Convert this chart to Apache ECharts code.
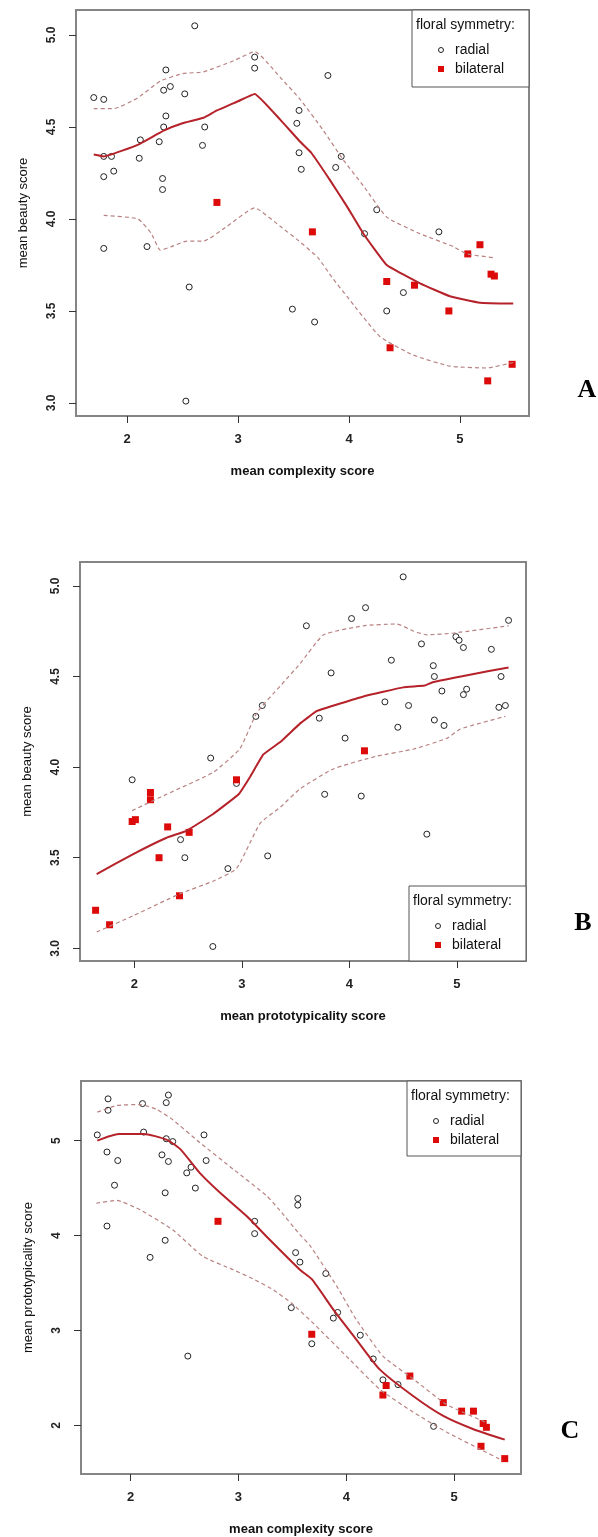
<!DOCTYPE html>
<html>
<head>
<meta charset="utf-8">
<title>floral symmetry</title>
<script src="https://cdn.jsdelivr.net/npm/echarts@6/dist/echarts.min.js"></script>
<style>body{margin:0;padding:0;background:#fff}</style>
</head>
<body>
<div id="main" style="width:598px;height:1537px"></div>
<script>
// A: complexity vs beauty
var aRadial = [[1.70,4.66],[1.79,4.65],[2.61,5.05],[3.15,4.88],[3.15,4.82],[2.35,4.81],[2.33,4.70],[2.39,4.72],[2.52,4.68],[2.35,4.56],
  [2.33,4.50],[2.70,4.50],[2.68,4.40],[2.12,4.43],[2.29,4.42],[1.79,4.34],[1.86,4.34],[2.11,4.33],[1.79,4.23],[1.88,4.26],
  [2.32,4.22],[2.32,4.16],[1.79,3.84],[2.18,3.85],[2.56,3.63],[3.49,3.51],[2.53,3.01],[3.81,4.78],[3.55,4.59],[3.53,4.52],
  [3.55,4.36],[3.93,4.34],[3.88,4.28],[3.57,4.27],[4.25,4.05],[4.14,3.92],[4.81,3.93],[4.49,3.60],[4.34,3.50],[3.69,3.44]];
var aBilateral = [[2.81,4.09],[3.67,3.93],[5.18,3.86],[5.07,3.81],[5.28,3.70],[5.31,3.69],[4.34,3.66],[4.59,3.64],[4.90,3.50],[4.37,3.30],[5.47,3.21],[5.25,3.12]];
var aFit = [[1.70,4.35],[1.79,4.34],[1.95,4.37],[2.12,4.41],[2.33,4.48],[2.50,4.52],[2.69,4.55],[2.81,4.59],[3.00,4.64],[3.15,4.68],
  [3.38,4.54],[3.56,4.42],[3.66,4.36],[3.83,4.21],[3.98,4.07],[4.13,3.92],[4.34,3.75],[4.64,3.65],[4.91,3.58],[5.18,3.545],[5.48,3.54]];
var aUpper = [[1.70,4.60],[1.88,4.60],[2.10,4.66],[2.30,4.75],[2.50,4.79],[2.69,4.80],[2.96,4.86],[3.15,4.91],[3.38,4.77],[3.56,4.65],
  [3.77,4.48],[3.95,4.32],[4.13,4.18],[4.34,4.01],[4.64,3.92],[4.94,3.85],[5.06,3.81],[5.30,3.79]];
var aLower = [[1.79,4.02],[2.10,4.00],[2.22,3.92],[2.30,3.83],[2.40,3.85],[2.54,3.88],[2.69,3.88],[2.90,3.96],[3.15,4.06],[3.38,3.96],
  [3.55,3.88],[3.72,3.79],[3.85,3.68],[3.98,3.58],[4.28,3.36],[4.58,3.26],[4.91,3.20],[5.24,3.19],[5.48,3.22]];

// B: prototypicality vs beauty
var bRadial = [[4.50,5.05],[4.15,4.88],[4.02,4.82],[3.60,4.78],[5.48,4.81],[4.99,4.72],[5.02,4.70],[4.67,4.68],[5.06,4.66],[5.32,4.65],
  [4.39,4.59],[4.78,4.56],[3.83,4.52],[4.79,4.50],[5.41,4.50],[4.86,4.42],[5.09,4.43],[5.06,4.40],[4.33,4.36],[4.55,4.34],
  [5.45,4.34],[5.39,4.33],[3.72,4.27],[4.79,4.26],[4.88,4.23],[4.45,4.22],[3.96,4.16],[2.71,4.05],[3.13,4.28],[3.19,4.34],
  [1.98,3.93],[2.95,3.91],[2.43,3.60],[2.47,3.50],[3.24,3.51],[2.87,3.44],[2.73,3.01],[3.77,3.85],[4.11,3.84],[4.72,3.63]];
var bBilateral = [[4.14,4.09],[2.95,3.93],[2.15,3.86],[2.15,3.82],[1.98,3.70],[2.01,3.71],[2.31,3.67],[2.51,3.64],[2.23,3.50],[2.42,3.29],[1.64,3.21],[1.77,3.13]];
var bFit = [[1.65,3.41],[1.99,3.52],[2.30,3.61],[2.49,3.65],[2.73,3.74],[2.97,3.85],[3.08,3.95],[3.20,4.07],[3.36,4.14],[3.54,4.24],
  [3.70,4.31],[4.13,4.39],[4.50,4.44],[4.70,4.45],[4.78,4.47],[5.12,4.51],[5.48,4.55]];
var bUpper = [[1.98,3.76],[2.30,3.85],[2.73,3.97],[2.98,4.10],[3.14,4.30],[3.36,4.45],[3.54,4.57],[3.76,4.73],[4.13,4.78],[4.44,4.79],
  [4.60,4.75],[4.72,4.73],[4.97,4.74],[5.48,4.78]];
var bLower = [[1.65,3.09],[1.99,3.18],[2.42,3.30],[2.73,3.37],[2.95,3.44],[3.17,3.69],[3.36,3.78],[3.54,3.88],[3.85,3.99],[4.25,4.06],
  [4.60,4.10],[4.91,4.16],[5.03,4.21],[5.45,4.28]];

// C: complexity vs prototypicality
var cRadial = [[1.69,5.06],[1.79,5.44],[1.79,5.32],[2.11,5.39],[2.33,5.40],[2.35,5.48],[2.12,5.09],[2.33,5.02],[2.39,4.99],[2.68,5.06],
  [1.78,4.88],[1.88,4.79],[2.29,4.85],[2.35,4.78],[2.70,4.79],[2.52,4.66],[2.56,4.72],[2.60,4.50],[1.85,4.53],[2.32,4.45],
  [1.78,4.10],[2.32,3.95],[2.18,3.77],[3.15,4.15],[3.15,4.02],[3.55,4.39],[3.55,4.32],[3.53,3.82],[3.57,3.72],[3.81,3.60],
  [3.49,3.24],[2.53,2.73],[3.88,3.13],[3.92,3.19],[4.13,2.95],[3.68,2.86],[4.25,2.70],[4.34,2.48],[4.48,2.43],[4.81,1.99]];
var cBilateral = [[2.81,4.15],[3.68,2.96],[4.37,2.42],[4.34,2.32],[4.59,2.52],[4.90,2.24],[5.07,2.15],[5.18,2.15],[5.27,2.02],[5.30,1.98],[5.25,1.78],[5.47,1.65]];
var cFit = [[1.69,5.00],[1.89,5.07],[2.12,5.07],[2.33,5.01],[2.46,4.91],[2.64,4.66],[2.83,4.45],[3.08,4.20],[3.26,3.99],[3.57,3.64],
  [3.68,3.54],[3.88,3.22],[4.09,2.91],[4.31,2.59],[4.62,2.31],[4.90,2.10],[5.18,1.96],[5.47,1.85]];
var cUpper = [[1.69,5.30],[1.87,5.37],[2.09,5.38],[2.24,5.33],[2.39,5.22],[2.64,4.98],[2.95,4.70],[3.26,4.42],[3.38,4.27],[3.57,4.01],
  [3.66,3.90],[3.91,3.47],[4.09,3.12],[4.34,2.73],[4.62,2.49],[4.93,2.22],[5.30,2.03]];
var cLower = [[1.68,4.34],[1.87,4.37],[2.09,4.27],[2.39,4.06],[2.67,3.78],[2.95,3.64],[3.14,3.54],[3.32,3.43],[3.49,3.29],[3.69,3.08],
  [4.00,2.73],[4.31,2.38],[4.62,2.14],[4.93,1.93],[5.24,1.75],[5.45,1.63]];

var xTicks = [2, 3, 4, 5];
var beautyTicks = [3.0, 3.5, 4.0, 4.5, 5.0];
var protoTicks = [2, 3, 4, 5];

var FONT = '"Liberation Sans", Arial, sans-serif';
var chart = echarts.init(document.getElementById('main'));

function xAx(gi, min, max, name) {
  return {
    type: 'value', gridIndex: gi, min: min, max: max,
    name: name, nameLocation: 'middle', nameGap: 49,
    nameTextStyle: { fontFamily: FONT, fontWeight: 'bold', fontSize: 13, color: '#111' },
    axisLine: { show: false },
    axisTick: { show: true, length: 7, customValues: xTicks, lineStyle: { color: '#333' } },
    axisLabel: { customValues: xTicks, margin: 17, fontFamily: FONT, fontWeight: 'bold', fontSize: 13, color: '#222' },
    splitLine: { show: false }
  };
}
function yAx(gi, min, max, name, ticks, dec) {
  return {
    type: 'value', gridIndex: gi, min: min, max: max,
    name: name, nameLocation: 'middle', nameGap: 46, nameRotate: 90,
    nameTextStyle: { fontFamily: FONT, fontSize: 13, color: '#111' },
    axisLine: { show: false },
    axisTick: { show: true, length: 7, customValues: ticks, lineStyle: { color: '#333' } },
    axisLabel: { customValues: ticks, rotate: 90, margin: 18, fontFamily: FONT, fontWeight: 'bold', fontSize: 12, color: '#222',
      formatter: function (v) { return v.toFixed(dec); } },
    splitLine: { show: false }
  };
}
function radial(data, i) {
  return { type: 'scatter', xAxisIndex: i, yAxisIndex: i, data: data, symbol: 'circle', symbolSize: 6,
    itemStyle: { color: '#fff', borderColor: '#222', borderWidth: 1, opacity: 1 }, z: 2 };
}
function bilateral(data, i) {
  return { type: 'scatter', xAxisIndex: i, yAxisIndex: i, data: data, symbol: 'rect', symbolSize: 7,
    itemStyle: { color: '#dd0a0a', opacity: 1 }, z: 3 };
}
function fit(data, i, sm) {
  return { type: 'line', xAxisIndex: i, yAxisIndex: i, data: data, showSymbol: false, smooth: sm,
    lineStyle: { color: '#b5222a', width: 2 }, z: 4 };
}
function band(data, i) {
  return { type: 'line', xAxisIndex: i, yAxisIndex: i, data: data, showSymbol: false, smooth: 0.15,
    lineStyle: { color: '#b98282', width: 1.2, type: [4, 3] }, z: 4 };
}
function legendBox(x, y, w, h) {
  return [
    { type: 'rect', shape: { x: x, y: y, width: w, height: h }, style: { fill: '#fff', stroke: '#555', lineWidth: 1 }, z: 10 },
    { type: 'text', x: x + 4, y: y + 15, style: { text: 'floral symmetry:', font: '14px ' + FONT, fill: '#111', textVerticalAlign: 'middle' }, z: 11 },
    { type: 'circle', shape: { cx: x + 29, cy: y + 40, r: 2.5 }, style: { fill: '#fff', stroke: '#222', lineWidth: 1 }, z: 11 },
    { type: 'text', x: x + 43, y: y + 40, style: { text: 'radial', font: '14px ' + FONT, fill: '#111', textVerticalAlign: 'middle' }, z: 11 },
    { type: 'rect', shape: { x: x + 26, y: y + 56, width: 6, height: 6 }, style: { fill: '#dd0a0a' }, z: 11 },
    { type: 'text', x: x + 43, y: y + 59, style: { text: 'bilateral', font: '14px ' + FONT, fill: '#111', textVerticalAlign: 'middle' }, z: 11 }
  ];
}
function letter(t, x, y) {
  return { type: 'text', x: x, y: y, style: { text: t, font: 'bold 26px "Liberation Serif", "Times New Roman", serif', fill: '#000',
    textAlign: 'center', textVerticalAlign: 'middle' }, z: 11 };
}

var gridStyle = { show: true, borderColor: '#858585', borderWidth: 2, backgroundColor: '#fff' };

chart.setOption({
  animation: false,
  grid: [
    Object.assign({ left: 76, top: 10, width: 453, height: 406 }, gridStyle),
    Object.assign({ left: 80, top: 562, width: 446, height: 399 }, gridStyle),
    Object.assign({ left: 81, top: 1081, width: 440, height: 394 }, gridStyle)
  ],
  xAxis: [
    xAx(0, 1.540, 5.622, 'mean complexity score'),
    xAx(1, 1.495, 5.642, 'mean prototypicality score'),
    xAx(2, 1.539, 5.621, 'mean complexity score')
  ],
  yAxis: [
    yAx(0, 2.929, 5.136, 'mean beauty score', beautyTicks, 1),
    yAx(1, 2.930, 5.132, 'mean beauty score', beautyTicks, 1),
    yAx(2, 1.488, 5.628, 'mean prototypicality score', protoTicks, 0)
  ],
  series: [
    radial(aRadial, 0), bilateral(aBilateral, 0), fit(aFit, 0, 0.1), band(aUpper, 0), band(aLower, 0),
    radial(bRadial, 1), bilateral(bBilateral, 1), fit(bFit, 1, 0.1), band(bUpper, 1), band(bLower, 1),
    radial(cRadial, 2), bilateral(cBilateral, 2), fit(cFit, 2, 0.2), band(cUpper, 2), band(cLower, 2)
  ],
  graphic: [].concat(
    legendBox(412, 10, 117, 77),
    legendBox(409, 886, 117, 75),
    legendBox(407, 1081, 114, 75),
    [letter('A', 587, 390), letter('B', 583, 923), letter('C', 570, 1431)]
  )
});
</script>
</body>
</html>
